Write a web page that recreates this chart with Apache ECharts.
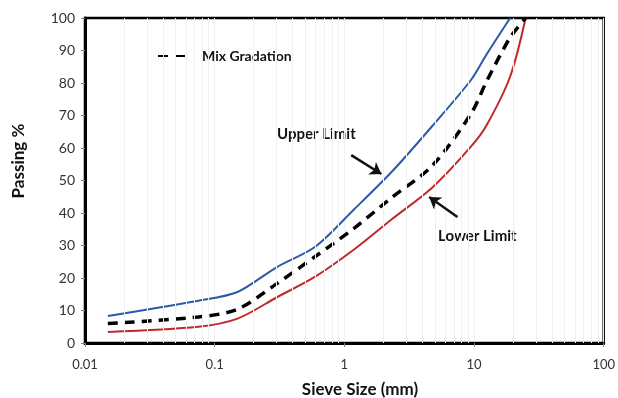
<!DOCTYPE html>
<html><head><meta charset="utf-8">
<script src="https://cdn.jsdelivr.net/npm/echarts@6/dist/echarts.min.js"></script>
<style>html,body{margin:0;padding:0;background:#fff}#c{width:618px;height:398px}</style>
</head><body><div id="c"></div>
<script>
const sieveSizes = [0.015, 0.075, 0.15, 0.3, 0.6, 1.18, 2.36, 4.75, 9.5, 12.5, 19, 25];
const upperLimit = [8.3, 13, 15.7, 23.3, 29.7, 41, 53, 66.7, 81, 88.8, 100, null];
const lowerLimit = [3.4, 5.0, 7.5, 14, 20.5, 28.7, 38.3, 47.8, 60.5, 67, 82, 100];
const mixGradation = [6.0, 8.0, 10.4, 18.2, 26.7, 35.2, 45, 54.5, 70.6, 80.5, 94, 100];
const minorGrid = [0.02,0.03,0.04,0.05,0.06,0.07,0.08,0.09,0.2,0.3,0.4,0.5,0.6,0.7,0.8,0.9,2,3,4,5,6,7,8,9,20,30,40,50,60,70,80,90];
const yTicks = [0,10,20,30,40,50,60,70,80,90,100];
const upperArrow = [[1.13, 57.8], [1.93, 52]];
const lowerArrow = [[7.45, 38.8], [4.51, 44.9]];

const pairs = (vals) => sieveSizes.map((s, i) => [s, vals[i]]).filter(p => p[1] !== null);
const font = 'Lato, "Open Sans", sans-serif';
const chart = echarts.init(document.getElementById('c'), null, {renderer: 'canvas'});
chart.setOption({
  animation: false,
  grid: {left: 85, right: 2, top: 18, bottom: 55, show: true, borderColor: '#000', borderWidth: 2.5},
  legend: {
    data: ['Mix Gradation'], left: 152, top: 44, itemWidth: 33, itemHeight: 14,
    itemStyle: {opacity: 0},
    textStyle: {fontFamily: font, fontWeight: 'bold', fontSize: 14, color: '#111', padding: [0,0,0,6]}
  },
  xAxis: {
    type: 'log', logBase: 10, min: 0.01, max: 100,
    axisLine: {lineStyle: {color: '#000', width: 3}},
    axisTick: {show: true, length: 4, lineStyle: {color: '#888'}},
    axisLabel: {fontFamily: font, fontSize: 13, color: '#333', margin: 15,
      formatter: v => String(v)},
    splitLine: {show: true, lineStyle: {color: '#f0f0f0', width: 1}}
  },
  yAxis: {
    type: 'value', min: 0, max: 100, interval: 10,
    axisLine: {show: true, lineStyle: {color: '#000', width: 3}},
    axisTick: {show: true, length: 4, lineStyle: {color: '#888'}},
    axisLabel: {fontFamily: font, fontSize: 14, color: '#333', margin: 10,
      formatter: v => yTicks.includes(v) ? String(v) : ''},
    splitLine: {show: false}
  },
  series: [
    {name: 'grid', type: 'line', data: [], z: 0, silent: true,
     markLine: {silent: true, symbol: 'none', label: {show: false},
       lineStyle: {color: '#f0f0f0', width: 1, type: 'solid'},
       data: minorGrid.map(v => ({xAxis: v}))}},
    {name: 'Upper Limit', type: 'line', data: pairs(upperLimit), smooth: 0.3, symbol: 'none',
     lineStyle: {color: '#2b5aa8', width: 2}, itemStyle: {color: '#2b5aa8'}, z: 3,
     markLine: {silent: true, symbol: ['none', 'arrow'], symbolSize: 11, label: {show: false},
       lineStyle: {color: '#111', width: 2.5, type: 'solid'},
       data: [
         [{coord: upperArrow[0]}, {coord: upperArrow[1]}],
         [{coord: lowerArrow[0]}, {coord: lowerArrow[1]}]
       ]}},
    {name: 'Lower Limit', type: 'line', data: pairs(lowerLimit), smooth: 0.3, symbol: 'none',
     lineStyle: {color: '#c0282c', width: 2}, itemStyle: {color: '#c0282c'}, z: 3},
    {name: 'Mix Gradation', type: 'line', data: pairs(mixGradation), smooth: 0.3, symbol: 'none',
     lineStyle: {color: '#000', width: 3.5, type: [10, 7]}, itemStyle: {color: '#000'}, z: 4}
  ],
  graphic: [
    {type: 'text', left: 277, top: 127, style: {text: 'Upper Limit', font: 'bold 15px ' + font, fill: '#111'}},
    {type: 'text', left: 438, top: 229, style: {text: 'Lower Limit', font: 'bold 15px ' + font, fill: '#111'}},
    {type: 'text', x: 19, y: 161, rotation: Math.PI / 2,
     style: {text: 'Passing %', font: 'bold 17px ' + font, fill: '#111', align: 'center', verticalAlign: 'middle'}},
    {type: 'text', x: 360, y: 390,
     style: {text: 'Sieve Size (mm)', font: 'bold 17px ' + font, fill: '#111', align: 'center', verticalAlign: 'middle'}}
  ]
});
</script></body></html>
